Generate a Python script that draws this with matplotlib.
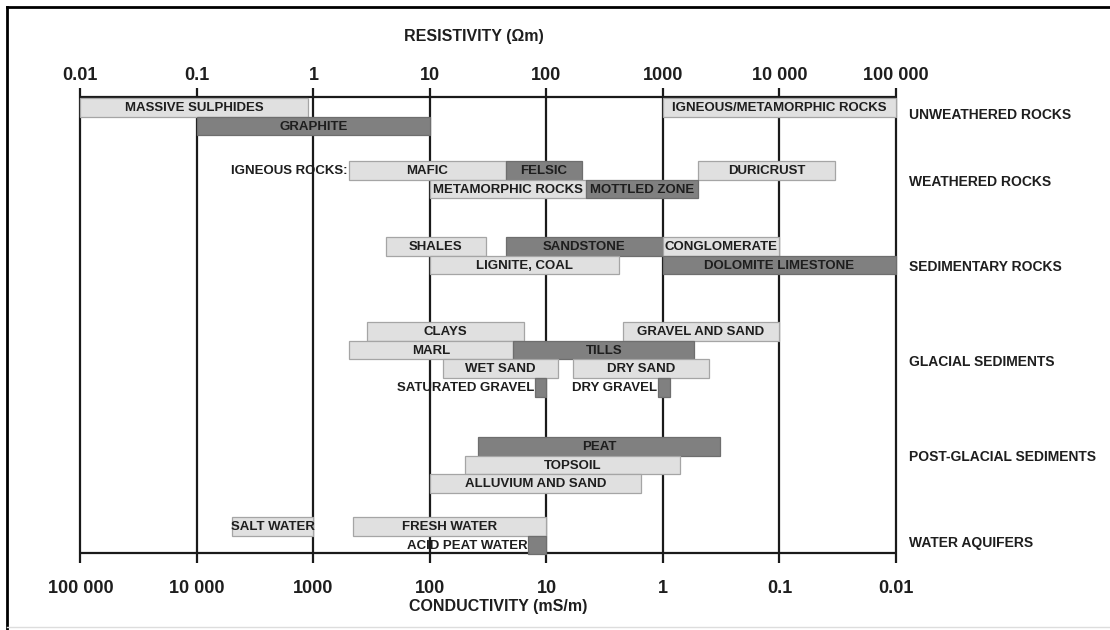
import matplotlib.pyplot as plt
from matplotlib import font_manager
from matplotlib.lines import Line2D

# resistivity ranges (ohm m)
groups = ["UNWEATHERED ROCKS", "WEATHERED ROCKS", "SEDIMENTARY ROCKS",
          "GLACIAL SEDIMENTS", "POST-GLACIAL SEDIMENTS", "WATER AQUIFERS"]

bar_text = ["MASSIVE SULPHIDES", "GRAPHITE", "IGNEOUS/METAMORPHIC ROCKS",
            "MAFIC", "FELSIC", "DURICRUST", "METAMORPHIC ROCKS", "MOTTLED ZONE",
            "SHALES", "SANDSTONE", "CONGLOMERATE", "LIGNITE, COAL", "DOLOMITE LIMESTONE",
            "CLAYS", "GRAVEL AND SAND", "MARL", "TILLS", "WET SAND", "DRY SAND", "", "",
            "PEAT", "TOPSOIL", "ALLUVIUM AND SAND",
            "SALT WATER", "FRESH WATER", ""]
side_text = ["", "", "",
             "IGNEOUS ROCKS:", "", "", "", "",
             "", "", "", "", "",
             "", "", "", "", "", "", "SATURATED GRAVEL", "DRY GRAVEL",
             "", "", "",
             "", "", "ACID PEAT WATER"]
res_low = [0.01, 0.1, 1000,
           2, 45, 2000, 10, 220,
           4.2, 45, 1000, 10, 1000,
           2.9, 450, 2, 52, 13, 170, 80, 900,
           26, 20, 10,
           0.2, 2.2, 70]
res_high = [0.9, 10, 100000,
            45, 200, 30000, 220, 2000,
            30, 1000, 10000, 420, 100000,
            64, 10000, 52, 1850, 125, 2500, 100, 1150,
            3100, 1400, 650,
            1, 100, 100]
bar_group = [0, 0, 0,
             1, 1, 1, 1, 1,
             2, 2, 2, 2, 2,
             3, 3, 3, 3, 3, 3, 3, 3,
             4, 4, 4,
             5, 5, 5]
bar_lane = [0, 1, 0,
            0, 0, 0, 1, 1,
            0, 0, 0, 1, 1,
            0, 0, 1, 1, 2, 2, 3, 3,
            0, 1, 2,
            0, 0, 1]
bar_dark = [0, 1, 0,
            0, 1, 0, 0, 1,
            0, 1, 0, 0, 1,
            0, 0, 0, 1, 0, 0, 1, 1,
            1, 0, 0,
            0, 0, 1]

res_ticks = [0.01, 0.1, 1, 10, 100, 1000, 10000, 100000]
res_labels = ["0.01", "0.1", "1", "10", "100", "1000", "10 000", "100 000"]
cond_labels = ["100 000", "10 000", "1000", "100", "10", "1", "0.1", "0.01"]

W, H = 1110, 630
font = "Liberation Sans"
# the labels in the bars are set in a condensed face if one is there
installed = {f.name for f in font_manager.fontManager.ttflist}
if "Liberation Sans Narrow" in installed:
    narrow, bar_fs, title_fs = "Liberation Sans Narrow", 11, 13
else:
    narrow, bar_fs, title_fs = font, 9.5, 11.5

fig = plt.figure(figsize=(W / 100, H / 100), dpi=100)

# axes: x in resistivity (log), y in pixels from the top of the figure
top_px, bot_px = 97, 553
ax = fig.add_axes([80.4 / W, 1 - bot_px / H, (896 - 80.4) / W, (bot_px - top_px) / H])
ax.set_xscale("log")
ax.set_xlim(0.01, 100000)
ax.set_ylim(bot_px, top_px)
ax.axis("off")

# frame lines and decade lines
ax.hlines([top_px, bot_px], 0.01, 100000, color="#1a1a1a", lw=1.6, zorder=2, clip_on=False)
ax.vlines(res_ticks, top_px - 9, bot_px + 10, color="#1a1a1a", lw=1.6, zorder=2, clip_on=False)

group_top = [98, 161, 237, 322, 437, 517]
group_label_y = [115, 182, 267, 362, 457, 543]
lane_h = 18.7
light, dark = "#e0e0e0", "#808080"

for txt, side, lo, hi, g, lane, dk in zip(bar_text, side_text, res_low, res_high,
                                          bar_group, bar_lane, bar_dark):
    y0 = group_top[g] + lane * lane_h
    yc = y0 + lane_h / 2
    ax.barh(yc, hi - lo, left=lo, height=lane_h,
            color=dark if dk else light,
            edgecolor="#6e6e6e" if dk else "#a5a5a5", lw=0.9, zorder=3, clip_on=False)
    if txt:
        xc = (lo * hi) ** 0.5
        ax.text(xc, yc + 0.5, txt, ha="center", va="center", fontsize=bar_fs,
                fontweight="bold", family=narrow, color="#1e1e1e", zorder=4)
    if side:
        ax.text(lo / 1.02, yc + 0.5, side, ha="right", va="center", fontsize=bar_fs,
                fontweight="bold", family=narrow, color="#1e1e1e", zorder=1)

for name, gy in zip(groups, group_label_y):
    fig.text(909 / W, 1 - gy / H, name, ha="left", va="center", fontsize=10,
             fontweight="bold", family=font, color="#1e1e1e")

for r, tl, cl in zip(res_ticks, res_labels, cond_labels):
    ax.text(r, 75, tl, ha="center", va="center", fontsize=13, fontweight="bold",
            family=font, color="#1e1e1e", clip_on=False)
    ax.text(r, 588, cl, ha="center", va="center", fontsize=13, fontweight="bold",
            family=font, color="#1e1e1e", clip_on=False)

fig.text(474 / W, 1 - 36 / H, "RESISTIVITY (\u03a9m)", ha="center", va="center",
         fontsize=title_fs, fontweight="bold", family=narrow, color="#1e1e1e")
fig.text(498 / W, 1 - 606 / H, "CONDUCTIVITY (mS/m)", ha="center", va="center",
         fontsize=title_fs, fontweight="bold", family=narrow, color="#1e1e1e")

# outer border of the figure panel
fig.add_artist(Line2D([7 / W, 7 / W], [0, 1 - 7 / H], color="black", lw=2))
fig.add_artist(Line2D([7 / W, 1], [1 - 7 / H, 1 - 7 / H], color="black", lw=2))
fig.add_artist(Line2D([7 / W, 1], [3 / H, 3 / H], color="#dddddd", lw=1))

fig.savefig("out.png", dpi=100)
